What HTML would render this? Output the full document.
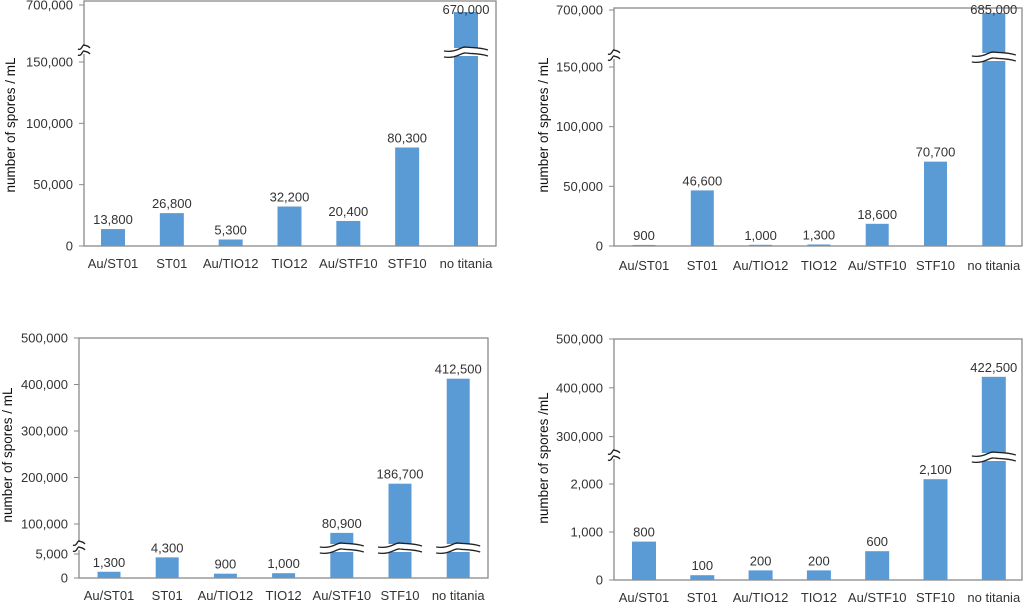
<!DOCTYPE html>
<html><head><meta charset="utf-8"><style>
html,body{margin:0;padding:0;background:#fff;}
svg{display:block;font-family:"Liberation Sans",sans-serif;}
</style></head><body>
<svg id="c" width="1024" height="605" viewBox="0 0 1024 605"></svg>
<script>
const categories = ["Au/ST01","ST01","Au/TIO12","TIO12","Au/STF10","STF10","no titania"];
const valuesA = [13800,26800,5300,32200,20400,80300,670000];
const valuesB = [900,46600,1000,1300,18600,70700,685000];
const valuesC = [1300,4300,900,1000,80900,186700,412500];
const valuesD = [800,100,200,200,600,2100,422500];
const ticksA = [0,50000,100000,150000,700000];
const ticksB = [0,50000,100000,150000,700000];
const ticksC = [0,5000,100000,200000,300000,400000,500000];
const ticksD = [0,1000,2000,300000,400000,500000];

const NS="http://www.w3.org/2000/svg";
const svg=document.getElementById('c');
function el(tag,attrs,parent){const e=document.createElementNS(NS,tag);for(const k in attrs)e.setAttribute(k,attrs[k]);(parent||svg).appendChild(e);return e;}
function fmt(v){return v.toLocaleString('en-US');}

const panels=[
 {name:'panel-top-left',vals:valuesA,ticks:ticksA,x0:84,x1:496,yTop:1,yBot:246,
  lo:[0,150000,246,62],hi:[500000,700000,51.7,5],brk:50,xc0:113,step:58.83,bw:24,xlab:268,title:'number of spores / mL',tx:15,ty:125},
 {name:'panel-top-right',vals:valuesB,ticks:ticksB,x0:614,x1:1022,yTop:8,yBot:246,
  lo:[0,150000,246,67],hi:[450000,700000,60,10],brk:55,xc0:644,step:58.3,bw:23,xlab:270,title:'number of spores / mL',tx:548,ty:125},
 {name:'panel-bottom-left',vals:valuesC,ticks:ticksC,x0:79,x1:488,yTop:338,yBot:578,
  lo:[0,5000,578,554],hi:[60000,500000,542.6,338],brk:546,xc0:109,step:58.2,bw:23,xlab:600,title:'number of spores / mL',tx:12,ty:455},
 {name:'panel-bottom-right',vals:valuesD,ticks:ticksD,x0:614,x1:1022,yTop:339,yBot:580,
  lo:[0,2500,580,460],hi:[250000,500000,461,339],brk:455,xc0:644,step:58.3,bw:24,xlab:602,title:'number of spores /mL',tx:548,ty:458}
];

function wave(x,y,w){ // path of wavy line centred at x
  const a=x-w/2,b=x+w/2;
  return `M${a},${y+2} C${a+w*0.3},${y+4} ${a+w*0.4},${y-3} ${x},${y-2} C${b-w*0.35},${y-1} ${b-w*0.2},${y-2} ${b},${y+1}`;
}
function breakMark(g,x,y,w){
  const gap=6;
  const top=wave(x,y-gap/2,w), bot=wave(x,y+gap/2,w);
  el('rect',{x:x-w/2,y:y-gap/2-1,width:w,height:gap+2,fill:'#fff'},g);
  el('path',{d:top,fill:'none',stroke:'#222','stroke-width':1.3},g);
  el('path',{d:bot,fill:'none',stroke:'#222','stroke-width':1.3},g);
}

panels.forEach(p=>{
  const g=el('g',{});
  
  
  const y=v=>{
    if(v<=p.lo[1]) return p.lo[2]+(v-p.lo[0])/(p.lo[1]-p.lo[0])*(p.lo[3]-p.lo[2]);
    return p.hi[2]+(v-p.hi[0])/(p.hi[1]-p.hi[0])*(p.hi[3]-p.hi[2]);
  };
  const fr=el('rect',{x:p.x0,y:p.yTop,width:p.x1-p.x0,height:p.yBot-p.yTop,fill:'none',stroke:'#8a8a8a','stroke-width':1.3},g);
  
  
  p.ticks.forEach(t=>{
    const ty=y(t);
    el('line',{x1:p.x0-5,x2:p.x0,y1:ty,y2:ty,stroke:'#8a8a8a'},g);
    const tl=el('text',{x:p.x0-11,y:ty+4.5,'text-anchor':'end','font-size':13,fill:'#333'},g);
    tl.textContent=fmt(t);
    
    
  });
  p.vals.forEach((v,i)=>{
    const cx=p.xc0+i*p.step, top=y(v);
    const b=el('rect',{x:cx-p.bw/2,y:top,width:p.bw,height:p.yBot-top,fill:'#5b9bd5'},g);
    
    
    if(v>p.lo[1]) breakMark(g,cx,p.brk+2,44);
    const vl=el('text',{x:cx,y:Math.max(top-5,14),'text-anchor':'middle','font-size':13,fill:'#333'},g);
    vl.textContent=fmt(v);
    
    
    const xl=el('text',{x:cx,y:p.xlab,'text-anchor':'middle','font-size':13,fill:'#333'},g);
    xl.textContent=categories[i];
    
    
  });
  breakMark(g,p.x0,p.brk,12);
  const tt=el('text',{x:p.tx,y:p.ty,'text-anchor':'middle','font-size':13.5,fill:'#111',transform:`rotate(-90 ${p.tx} ${p.ty})`},g);
  tt.textContent=p.title;
  
  
});
</script>
</body></html>
